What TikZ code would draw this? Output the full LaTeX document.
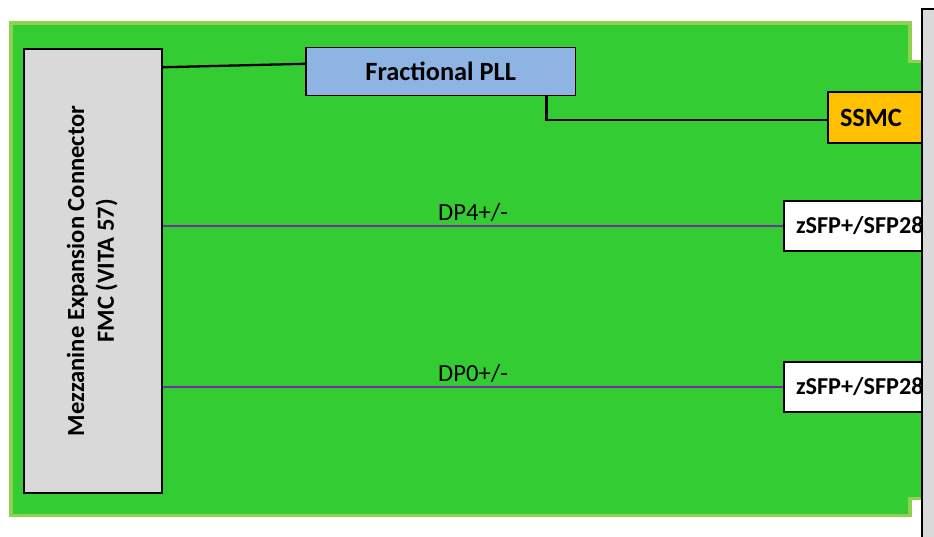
\documentclass[tikz,border=0pt]{standalone}
\usepackage{fontspec}
\setmainfont{Carlito}

\definecolor{boardgreen}{HTML}{33CC33}
\definecolor{edgegreen}{HTML}{92D050}
\definecolor{connectorgrey}{HTML}{D9D9D9}
\definecolor{pllblue}{HTML}{8DB4E2}
\definecolor{ssmcorange}{HTML}{FFC000}
\definecolor{lanepurple}{HTML}{7030A0}

\begin{document}
\begin{tikzpicture}[x=0.02cm, y=-0.02cm,
    box/.style={draw=black, line width=0.9pt, inner sep=0pt},
    boxtext/.style={font=\fontsize{15}{18}\selectfont\bfseries},
    sfpbox/.style={box, fill=white, font=\fontsize{13.8}{16}\selectfont\bfseries, minimum width=2.76cm,
        minimum height=1cm, inner xsep=0.24cm, text width=2.28cm, align=left},
    wire/.style={line width=1.3pt},
    lane/.style={lanepurple, line width=1.6pt},
    lanelabel/.style={font=\fontsize{14}{16}\selectfont, text=black, inner sep=2pt}]
    % 画布
    \clip (0,0) rectangle (934,537);
    \fill[white] (0,0) rectangle (934,537);

    % 板卡外形 (右侧带缺口)
    \draw[fill=boardgreen, draw=edgegreen, line width=2pt]
        (11,23) -- (910,23) -- (910,61.5) -- (924,61.5) -- (924,498.5)
        -- (910,498.5) -- (910,515.5) -- (11,515.5) -- cycle;

    % 前面板
    \fill[connectorgrey] (922,9) rectangle (940,540);
    \draw[line width=0.9pt] (922,540) -- (922,9) -- (940,9);

    % 各个模块
    \node[box, fill=connectorgrey, font=\fontsize{14}{17}\selectfont\bfseries,
        minimum width=2.76cm, minimum height=8.88cm] (mezz) at (93,271)
        {\rotatebox{90}{\begin{tabular}{@{}c@{}}Mezzanine Expansion Connector\\FMC (VITA 57)\end{tabular}}};
    \node[box, boxtext, fill=pllblue, minimum width=5.4cm, minimum height=0.96cm] (pll) at (440.7,71.3) {Fractional PLL};
    \node[box, boxtext, fill=ssmcorange, minimum width=1.88cm, minimum height=1.02cm,
        inner xsep=0.24cm, text width=1.4cm, align=left] (ssmc) at (875,117.5) {SSMC};
    \node[sfpbox] (sfpa) at (853,226) {zSFP+/SFP28};
    \node[sfpbox] (sfpb) at (853,387) {zSFP+/SFP28};

    % 时钟连线
    \draw[wire] ([yshift=-0.38cm]mezz.north east) -- ([yshift=0.15cm]pll.west);
    \draw[wire] ([xshift=-0.6cm]pll.south east) |- ([yshift=-0.05cm]ssmc.west);

    % 高速串行通道
    \draw[lane] (mezz.east |- sfpa.west) -- node[above, lanelabel] {DP4+/-} (sfpa.west);
    \draw[lane] (mezz.east |- sfpb.west) -- node[above, lanelabel] {DP0+/-} (sfpb.west);
\end{tikzpicture}
\end{document}
